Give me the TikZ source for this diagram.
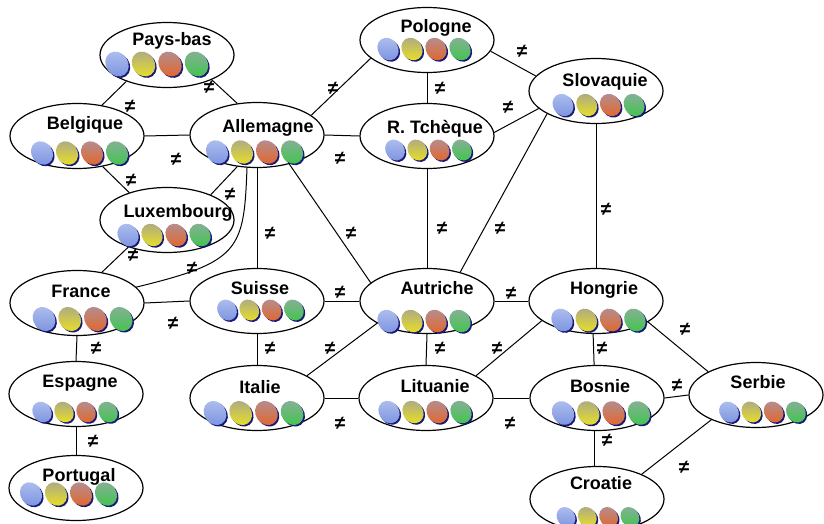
\documentclass[tikz,border=0pt]{standalone}
\usepackage{fontspec}
\setmainfont{Liberation Sans}
\usetikzlibrary{calc,shapes.geometric}
\definecolor{bB1}{RGB}{172,188,238}
\definecolor{bB2}{RGB}{126,150,224}
\definecolor{bY1}{RGB}{176,172,128}
\definecolor{bY2}{RGB}{230,222,40}
\definecolor{bR1}{RGB}{182,140,140}
\definecolor{bR2}{RGB}{224,104,48}
\definecolor{bG1}{RGB}{132,176,148}
\definecolor{bG2}{RGB}{68,196,80}
\definecolor{shadowc}{RGB}{24,24,120}
\tikzset{
  cell/.style={draw, ellipse, minimum width=134pt, minimum height=65pt, inner sep=0pt, line width=1.2pt},
  lbl/.style={font=\bfseries\fontsize{18}{20}\selectfont, inner sep=0pt, anchor=base},
  neq/.style={font=\bfseries\fontsize{19}{20}\selectfont, inner sep=0pt},
  link/.style={line width=1pt},
}
\newcommand\cty[9]{%
  \node[cell] (#1) at (#2,#3) {};
  \node[lbl] (#1-t) at ($(#1)+(#5,#9)$) {#4};
  \foreach \k/\cc in {0/B,1/Y,2/R,3/G}{%
    \pgfmathsetmacro\bx{#2+#6+\k*#8}%
    \pgfmathsetmacro\by{#3+#7}%
    \pgfmathsetmacro\bs{#8/24}%
    \begin{scope}[shift={(\bx+1.5,\by+1.5)}, rotate=35, scale=\bs]
      \fill[shadowc] (0,0) ellipse [x radius=10, y radius=11.8];
    \end{scope}
    \begin{scope}[shift={(\bx,\by)}, rotate=35, scale=\bs]
      \shade[top color=b\cc1, bottom color=b\cc2] (0,0) ellipse [x radius=10, y radius=11.8];
    \end{scope}
  }%
}
\begin{document}
\begin{tikzpicture}[x=1pt,y=-1pt]
\useasboundingbox (0,0) rectangle (824,524);
% name x y text tdx bdx bdy spacing tdy
\cty{pb}{167}{55}{Pays-bas}{5}{-50}{9}{26.5}{-9}
\cty{be}{77}{136}{Belgique}{8}{-35}{17}{25}{-7}
\cty{al}{257}{135}{Allemagne}{11}{-40}{17}{25}{-3}
\cty{lu}{167}{220}{Luxembourg}{11}{-39}{15}{24}{-3}
\cty{po}{427}{40}{Pologne}{9}{-39}{9}{24}{-7}
\cty{sk}{596}{91}{Slovaquie}{9}{-33}{14}{23.7}{-4}
\cty{rt}{427}{136}{R. Tchèque}{8}{-32}{14}{22.3}{-3}
\cty{fr}{77}{303}{France}{4}{-33}{16}{25.7}{-6}
\cty{su}{257}{301}{Suisse}{3}{-30}{9}{22.3}{-7}
\cty{at}{427}{301}{Autriche}{10}{-39}{20}{24}{-7}
\cty{ho}{596}{301}{Hongrie}{8}{-34}{19}{24.3}{-7}
\cty{es}{76}{394}{Espagne}{4}{-34}{18}{22}{-7}
\cty{it}{257}{398}{Italie}{3}{-42}{15}{25.7}{-5}
\cty{li}{426}{398}{Lituanie}{9}{-37}{14}{24}{-6}
\cty{bo}{597}{398}{Bosnie}{3}{-34}{15}{25.3}{-6}
\cty{se}{756}{395}{Serbie}{2}{-27}{17}{22.3}{-7}
\cty{pt}{76}{488}{Portugal}{3}{-45}{6}{25}{-7}
\cty{cr}{597}{499}{Croatie}{4}{-31}{18}{21.3}{-10}
% connectors
\draw[link] (pb.213) -- (be.51);
\draw[link] (pb.331) -- (al.122);
\draw[link] (be.0) -- (al.180);
\draw[link] (be.310) -- (lu.144);
\draw[link] (al.238) -- (lu.30);
\draw[link] (al.253) .. controls (244,250) and (240,262) .. (fr.15);
\draw[link] (al.south) -- (su.north);
\draw[link] (al.318) -- (at.162);
\draw[link] (al.0) -- (rt.180);
\draw[link] (al.20) -- (po.198);
\draw[link] (po.south) -- (rt.north);
\draw[link] (po.350) -- (sk.166);
\draw[link] (rt.3) -- (sk.197);
\draw[link] (rt.south) -- (at.north);
\draw[link] (sk.205) -- (at.41);
\draw[link] (sk.south) -- (ho.north);
\draw[link] (lu.215) -- (fr.51);
\draw[link] (fr.0) -- (su.180);
\draw[link] (fr.south) -- (es.north);
\draw[link] (es.south) -- (pt.north);
\draw[link] (su.0) -- (at.180);
\draw[link] (su.south) -- (it.north);
\draw[link] (it.24) -- (at.204);
\draw[link] (it.0) -- (li.180);
\draw[link] (at.south) -- (li.north);
\draw[link] (at.0) -- (ho.180);
\draw[link] (li.24) -- (ho.200);
\draw[link] (li.0) -- (bo.180);
\draw[link] (ho.265) -- (bo.95);
\draw[link] (ho.338) -- (se.154);
\draw[link] (bo.0) -- (se.180);
\draw[link] (bo.265) -- (cr.95);
\draw[link] (se.209) -- (cr.29);
% inequality marks
\node[neq] (n1) at (130,106) {≠};
\node[neq] (n2) at (209,87) {≠};
\node[neq] (n3) at (176,159) {≠};
\node[neq] (n4) at (131,180) {≠};
\node[neq] (n5) at (230,194) {≠};
\node[neq] (n6) at (192,268) {≠};
\node[neq] (n7) at (270,233) {≠};
\node[neq] (n8) at (351,233) {≠};
\node[neq] (n9) at (340,158) {≠};
\node[neq] (n10) at (333,88) {≠};
\node[neq] (n11) at (440,88) {≠};
\node[neq] (n12) at (522,51) {≠};
\node[neq] (n13) at (508,107) {≠};
\node[neq] (n14) at (442,228) {≠};
\node[neq] (n15) at (500,228) {≠};
\node[neq] (n16) at (606,209) {≠};
\node[neq] (n17) at (133,255) {≠};
\node[neq] (n18) at (173,323) {≠};
\node[neq] (n19) at (96,348) {≠};
\node[neq] (n20) at (93,441) {≠};
\node[neq] (n21) at (340,292) {≠};
\node[neq] (n22) at (270,348) {≠};
\node[neq] (n23) at (330,348) {≠};
\node[neq] (n24) at (340,423) {≠};
\node[neq] (n25) at (440,348) {≠};
\node[neq] (n26) at (511,293) {≠};
\node[neq] (n27) at (497,348) {≠};
\node[neq] (n28) at (510,423) {≠};
\node[neq] (n29) at (602,348) {≠};
\node[neq] (n30) at (685,329) {≠};
\node[neq] (n31) at (677,385) {≠};
\node[neq] (n32) at (607,440) {≠};
\node[neq] (n33) at (684,467) {≠};
\end{tikzpicture}
\end{document}
